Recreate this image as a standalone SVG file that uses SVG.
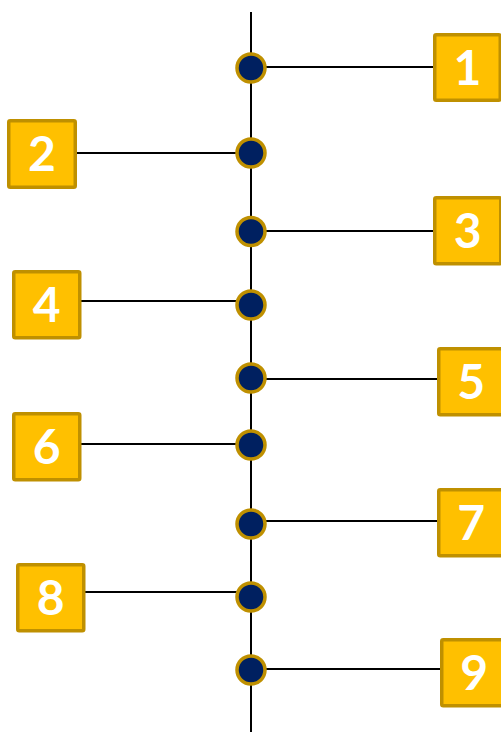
<svg xmlns="http://www.w3.org/2000/svg" width="501" height="732" viewBox="0 0 501 732">
<style>
.box{fill:#FFC000;stroke:#BF9000;stroke-width:3.5}
.dot{fill:#002060;stroke:#BF9000;stroke-width:3.5}
.lbl{fill:#FFFFFF;font-family:Lato,"Open Sans",sans-serif;font-weight:700;font-size:48px;text-anchor:middle}
.ln{stroke:#000000;stroke-width:2;fill:none}
</style>
<rect width="501" height="732" fill="#FFFFFF"/>
<g id="connectors">
<line class="ln" x1="251" y1="12" x2="251" y2="732"/>
<line class="ln" x1="251" y1="67" x2="434" y2="67"/>
<line class="ln" x1="77" y1="153" x2="251" y2="153"/>
<line class="ln" x1="251" y1="231" x2="434" y2="231"/>
<line class="ln" x1="81" y1="301" x2="251" y2="301"/>
<line class="ln" x1="251" y1="379" x2="438" y2="379"/>
<line class="ln" x1="81" y1="444" x2="251" y2="444"/>
<line class="ln" x1="251" y1="521" x2="438" y2="521"/>
<line class="ln" x1="84" y1="592" x2="251" y2="592"/>
<line class="ln" x1="251" y1="669" x2="441" y2="669"/>
</g>
<g id="dots">
<circle class="dot" cx="251" cy="68" r="14"/>
<circle class="dot" cx="251" cy="153" r="14"/>
<circle class="dot" cx="251" cy="231.5" r="14"/>
<circle class="dot" cx="251" cy="305" r="14"/>
<circle class="dot" cx="251" cy="378" r="14"/>
<circle class="dot" cx="251" cy="445" r="14"/>
<circle class="dot" cx="251" cy="524" r="14"/>
<circle class="dot" cx="251" cy="597" r="14"/>
<circle class="dot" cx="251" cy="670" r="14"/>
</g>
<g id="node1"><rect class="box" x="434.75" y="34.75" width="65.5" height="65.5" rx="1.5"/><text class="lbl" x="467.5" y="84.5">1</text></g>
<g id="node2"><rect class="box" x="8.75" y="120.75" width="66.5" height="66.5" rx="1.5"/><text class="lbl" x="42" y="171">2</text></g>
<g id="node3"><rect class="box" x="434.75" y="197.75" width="66" height="66" rx="1.5"/><text class="lbl" x="467.75" y="247.5">3</text></g>
<g id="node4"><rect class="box" x="13.75" y="271.75" width="66" height="66" rx="1.5"/><text class="lbl" x="46.75" y="321.5">4</text></g>
<g id="node5"><rect class="box" x="438.75" y="348.75" width="66" height="66" rx="1.5"/><text class="lbl" x="471.25" y="398.5">5</text></g>
<g id="node6"><rect class="box" x="13.75" y="413.75" width="66" height="66" rx="1.5"/><text class="lbl" x="46.75" y="463.5">6</text></g>
<g id="node7"><rect class="box" x="438.75" y="489.75" width="66" height="66" rx="1.5"/><text class="lbl" x="471.25" y="539.5">7</text></g>
<g id="node8"><rect class="box" x="17.75" y="564.75" width="66" height="66" rx="1.5"/><text class="lbl" x="50.75" y="614.5">8</text></g>
<g id="node9"><rect class="box" x="441.75" y="639.75" width="66" height="66" rx="1.5"/><text class="lbl" x="474.25" y="689.5">9</text></g>
</svg>
